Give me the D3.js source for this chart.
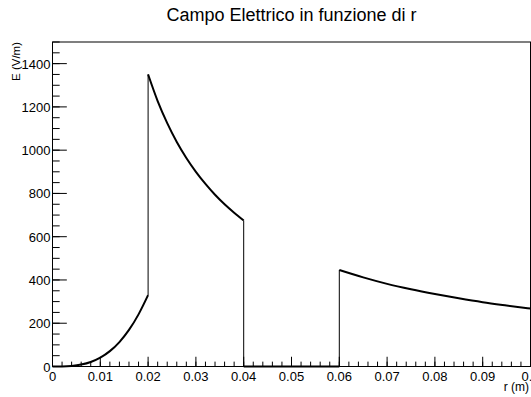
<!DOCTYPE html>
<html>
<head>
<meta charset="utf-8">
<script src="https://cdn.jsdelivr.net/npm/d3@7"></script>
<style>
  body { margin: 0; background: #fff; }
  text { font-family: "Liberation Sans", Arial, sans-serif; fill: #000; }
</style>
</head>
<body>
<div id="chart"></div>
<script>
// Plot constants
const W = 531;
const H = 397;
const MARGIN = {LEFT: 52.5, RIGHT: 0.5, TOP: 42, BOTTOM: 30.5};

// Data
const rInner = [0, 0.002, 0.004, 0.006, 0.008, 0.01, 0.012, 0.014, 0.016, 0.018, 0.02];
const eInner = [0, 0.3, 2.6, 9, 21, 41, 71, 113, 169, 241, 330];
const rMiddle = [0.02, 0.022, 0.024, 0.026, 0.028, 0.03, 0.032, 0.034, 0.036, 0.038, 0.04];
const eMiddle = [1350, 1227, 1125, 1038, 964, 900, 844, 794, 750, 711, 675];
const rGap = [0.04, 0.06];
const eGap = [0, 0];
const rOuter = [0.06, 0.065, 0.07, 0.075, 0.08, 0.085, 0.09, 0.095, 0.1];
const eOuter = [446, 412, 382, 357, 335, 315, 297, 282, 268];
// Jumps between pieces: [r, E from, E to]
const jumps = [[0.02, 330, 1350], [0.04, 675, 0], [0.06, 0, 446]];

const xTicks = [0, 0.01, 0.02, 0.03, 0.04, 0.05, 0.06, 0.07, 0.08, 0.09, 0.1];
const yTicks = [0, 200, 400, 600, 800, 1000, 1200, 1400];

const svg = d3.select("#chart").append("svg")
  .attr("width", W).attr("height", H);

svg.append("rect").attr("width", W).attr("height", H).attr("fill", "#fff");

const x = d3.scaleLinear().domain([0, 0.1]).range([MARGIN.LEFT, W - MARGIN.RIGHT]);
const y = d3.scaleLinear().domain([0, 1500]).range([H - MARGIN.BOTTOM, MARGIN.TOP]);

const fw = x(0.1) - x(0);
const fh = y(0) - y(1500);

// Title
svg.append("text")
  .attr("x", (x(0) + x(0.1)) / 2).attr("y", 21)
  .attr("text-anchor", "middle")
  .style("font-size", "18px")
  .text("Campo Elettrico in funzione di r");

// Minor ticks
const g = svg.append("g");
const xMinor = d3.range(0, 0.1001, 0.002);
g.selectAll(".xm").data(xMinor).join("line")
  .attr("x1", d => x(d)).attr("x2", d => x(d))
  .attr("y1", y(0)).attr("y2", y(0) - fh * 0.015)
  .attr("stroke", "#000");
const yMinor = d3.range(0, 1501, 50);
g.selectAll(".ym").data(yMinor).join("line")
  .attr("x1", x(0)).attr("x2", x(0) + fw * 0.015)
  .attr("y1", d => y(d)).attr("y2", d => y(d))
  .attr("stroke", "#000");

// Major ticks
g.selectAll(".xM").data(xTicks).join("line")
  .attr("x1", d => x(d)).attr("x2", d => x(d))
  .attr("y1", y(0)).attr("y2", y(0) - fh * 0.03)
  .attr("stroke", "#000");
g.selectAll(".yM").data(yTicks).join("line")
  .attr("x1", x(0)).attr("x2", x(0) + fw * 0.03)
  .attr("y1", d => y(d)).attr("y2", d => y(d))
  .attr("stroke", "#000");

// Tick labels
g.selectAll(".xl").data(xTicks).join("text")
  .attr("x", d => x(d)).attr("y", y(0) + 14)
  .attr("text-anchor", "middle")
  .style("font-size", "13px")
  .text(d => d3.format("~g")(d));
g.selectAll(".yl").data(yTicks).join("text")
  .attr("x", x(0) - 2).attr("y", d => y(d) + 5)
  .attr("text-anchor", "end")
  .style("font-size", "13px")
  .text(d => d);

// Axis titles
svg.append("text")
  .attr("x", 529).attr("y", 391)
  .attr("text-anchor", "end")
  .style("font-size", "12px")
  .text("r (m)");
svg.append("text")
  .attr("transform", "translate(20," + MARGIN.TOP + ") rotate(-90)")
  .attr("text-anchor", "end")
  .style("font-size", "11.5px")
  .text("E (V/m)");

// Curves
const line = d3.line().x(d => x(d[0])).y(d => y(d[1])).curve(d3.curveMonotoneX);
const pieces = [
  d3.zip(rInner, eInner),
  d3.zip(rMiddle, eMiddle),
  d3.zip(rGap, eGap),
  d3.zip(rOuter, eOuter)
];
g.selectAll(".jump").data(jumps).join("line")
  .attr("x1", d => x(d[0])).attr("x2", d => x(d[0]))
  .attr("y1", d => y(d[1])).attr("y2", d => y(d[2]))
  .attr("stroke", "#000").attr("stroke-width", 1);
g.selectAll(".piece").data(pieces).join("path")
  .attr("d", line)
  .attr("fill", "none")
  .attr("stroke", "#000")
  .attr("stroke-width", 2);

// Frame
svg.append("rect")
  .attr("x", x(0)).attr("y", y(1500))
  .attr("width", fw).attr("height", fh)
  .attr("fill", "none").attr("stroke", "#000").attr("stroke-width", 1);
</script>
</body>
</html>
